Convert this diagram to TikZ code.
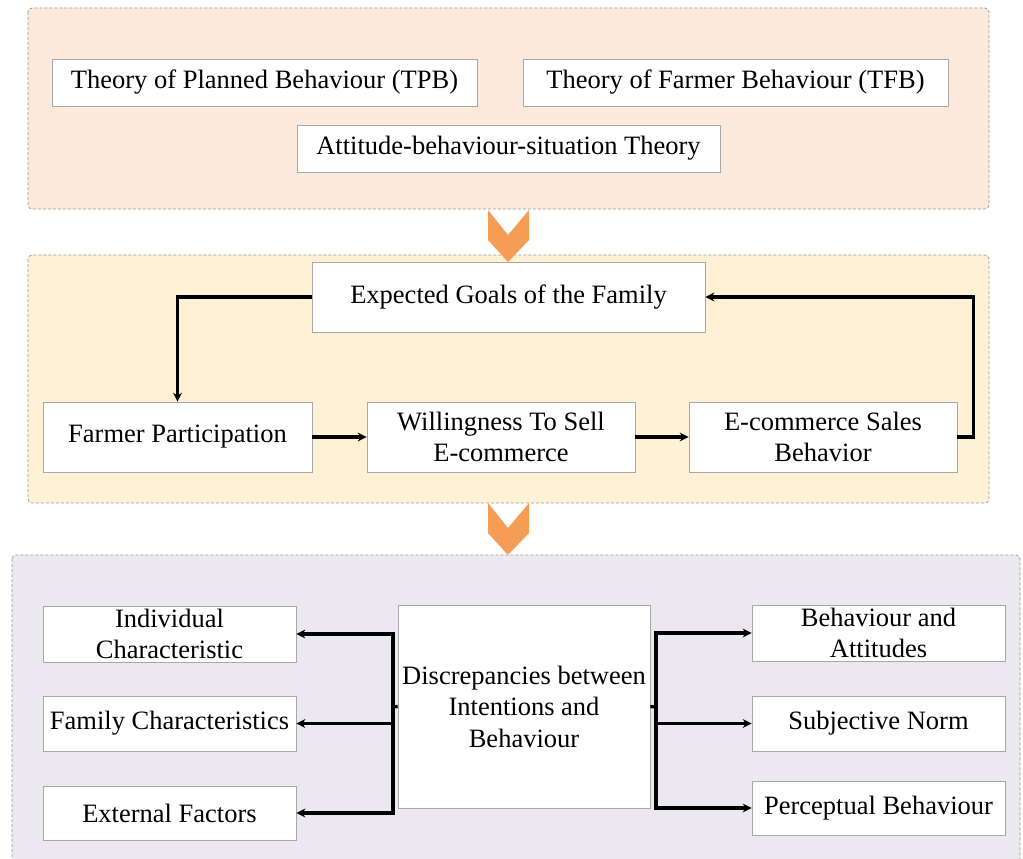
\documentclass[tikz,border=0pt]{standalone}
\usepackage{fontspec}
\setmainfont{Liberation Serif}
\newfontfamily\tmsfont{Liberation Serif}
\usetikzlibrary{arrows.meta}
\definecolor{panelA}{HTML}{FBE9DC}
\definecolor{panelB}{HTML}{FEF1D5}
\definecolor{panelC}{HTML}{EBE8F0}
\definecolor{chev}{HTML}{F59D55}
\definecolor{boxline}{HTML}{A8A8A8}
\definecolor{dashline}{HTML}{9A9A9A}
\begin{document}
\begin{tikzpicture}[x=1pt,y=-1pt,
  panel/.style={draw=dashline,line width=0.8pt,dash pattern=on 3pt off 2pt,rounded corners=4pt},
  tbox/.style={draw=boxline,fill=white,line width=0.7pt,inner sep=0pt,align=center,
    font=\tmsfont\fontsize{26.5}{31.5}\selectfont},
  arr/.style={line width=3.3pt,-{Stealth[length=9pt,width=9pt]}},
  conn/.style={line width=3.3pt}]
\useasboundingbox (0,0) rectangle (1023,859);
\clip (0,0) rectangle (1023,859);
% panels
\path[panel,fill=panelA] (28,8) rectangle (989,209);
\path[panel,fill=panelB] (28,255) rectangle (989,503);
\path[panel,fill=panelC] (12,555) rectangle (1020,880);
% chevrons
\fill[chev] (488,210) -- (508,235) -- (529,210) -- (529,240) -- (508,262) -- (488,240) -- cycle;
\fill[chev] (488,503) -- (508,528) -- (529,503) -- (529,533) -- (508,555) -- (488,533) -- cycle;
% top
\node[tbox,minimum width=425pt,minimum height=47pt] (tpb) at (264.5,82.5) {Theory of Planned Behaviour (TPB)};
\node[tbox,minimum width=425pt,minimum height=47pt] (tfb) at (735.5,82.5) {Theory of Farmer Behaviour (TFB)};
\node[tbox,minimum width=423pt,minimum height=47pt] (abs) at (508.5,148.5) {Attitude-behaviour-situation Theory};
% middle
\node[tbox,minimum width=393pt,minimum height=70pt] (goals) at (508.5,297) {Expected Goals of the Family};
\node[tbox,minimum width=269pt,minimum height=70pt] (farmer) at (177.5,437) {Farmer Participation};
\node[tbox,minimum width=268pt,minimum height=70pt] (will) at (501,437) {Willingness To Sell\\E-commerce};
\node[tbox,minimum width=268pt,minimum height=70pt] (sales) at (823,437) {E-commerce Sales\\Behavior};
\draw[arr] (farmer.east) -- (will.west);
\draw[arr] (will.east) -- (sales.west);
\draw[arr] (sales.east) -- ++(16,0) |- (goals.east);
\draw[arr] (goals.west) -| (farmer.north);
% bottom
\node[tbox,minimum width=253pt,minimum height=56pt] (indiv) at (169.5,634) {Individual\\Characteristic};
\node[tbox,minimum width=253pt,minimum height=55pt] (family) at (169.5,723.5) {Family Characteristics};
\node[tbox,minimum width=253pt,minimum height=54pt] (external) at (169.5,813) {External Factors};
\node[tbox,minimum width=252pt,minimum height=203pt] (disc) at (524,706.5) {Discrepancies between\\Intentions and\\Behaviour};
\node[tbox,minimum width=253pt,minimum height=56pt] (battit) at (878.5,633) {Behaviour and\\Attitudes};
\node[tbox,minimum width=253pt,minimum height=55pt] (subj) at (878.5,723.5) {Subjective Norm};
\node[tbox,minimum width=253pt,minimum height=54pt] (perc) at (878.5,808) {Perceptual Behaviour};
\coordinate (lb) at (393,707);
\coordinate (rb) at (656,707);
\draw[conn] (disc.west) -- (lb);
\draw[conn] (disc.east) -- (rb);
\draw[arr] (lb) |- (indiv.east);
\draw[arr] (lb) |- (family.east);
\draw[arr] (lb) |- (external.east);
\draw[arr] (rb) |- (battit.west);
\draw[arr] (rb) |- (subj.west);
\draw[arr] (rb) |- (perc.west);
\end{tikzpicture}
\end{document}
